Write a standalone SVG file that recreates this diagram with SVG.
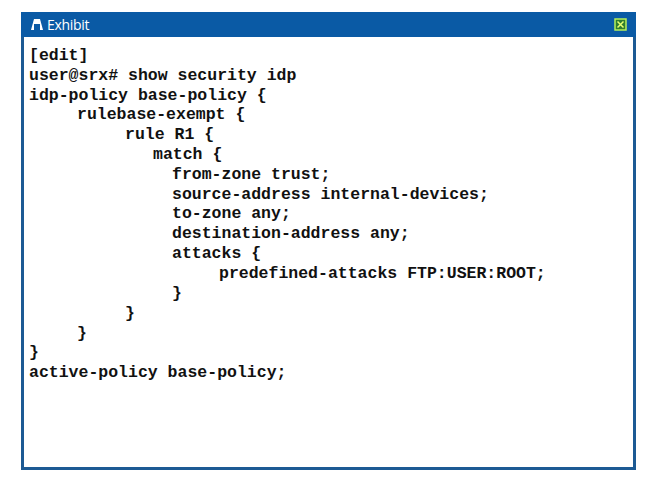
<svg xmlns="http://www.w3.org/2000/svg" width="656" height="480" viewBox="0 0 656 480">
<style>
.t{font-family:"Liberation Mono",monospace;font-weight:bold;font-size:16.5px;fill:#111}
</style>
<rect width="656" height="480" fill="#fff"/>
<g id="window">
<rect x="22.5" y="13.5" width="612" height="455" fill="#fff" stroke="#1d5a94" stroke-width="3"/>
<rect x="21" y="12" width="615" height="25" fill="#0a5aa5"/>
<path d="M31 30 L34 19 L40 19 L43 30 Z" fill="#fff"/>
<rect x="34" y="24" width="6" height="6" fill="#0a5aa5"/>
<text x="47" y="30" font-family="'Open Sans',sans-serif" font-size="14" letter-spacing="-0.3" fill="#fff">Exhibit</text>
<rect x="615" y="19" width="11" height="11" fill="#2f7d2f" stroke="#b6f05a" stroke-width="1.5"/>
<path d="M617.5 21.5 L623.5 27.5 M623.5 21.5 L617.5 27.5" stroke="#e8ff70" stroke-width="1.5"/>
</g>
<g id="code" class="t">
<text x="29" y="60">[edit]</text>
<text x="29" y="80">user@srx# show security idp</text>
<text x="29" y="100">idp-policy base-policy {</text>
<text x="77" y="119">rulebase-exempt {</text>
<text x="125" y="139">rule R1 {</text>
<text x="153" y="159">match {</text>
<text x="172" y="179">from-zone trust;</text>
<text x="172" y="199">source-address internal-devices;</text>
<text x="172" y="218">to-zone any;</text>
<text x="172" y="238">destination-address any;</text>
<text x="172" y="258">attacks {</text>
<text x="219" y="278">predefined-attacks FTP:USER:ROOT;</text>
<text x="172" y="298">}</text>
<text x="125" y="318">}</text>
<text x="77" y="338">}</text>
<text x="29" y="357">}</text>
<text x="29" y="377">active-policy base-policy;</text>
</g>
</svg>
